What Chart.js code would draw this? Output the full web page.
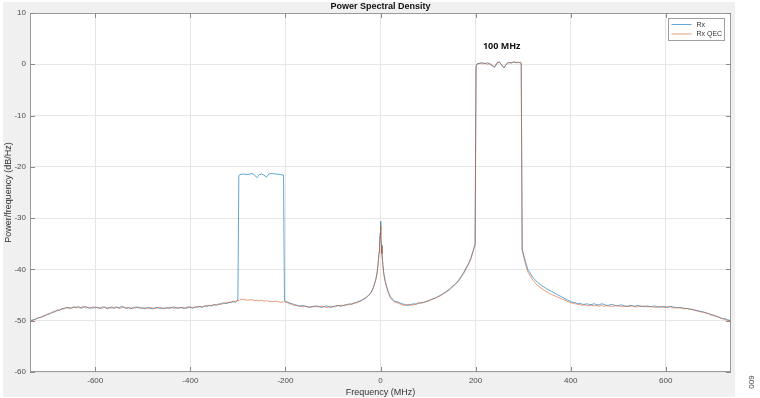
<!DOCTYPE html>
<html>
<head>
<meta charset="utf-8">
<script src="https://cdn.jsdelivr.net/npm/chart.js@4.4.1/dist/chart.umd.min.js"></script>
<style>
  html, body { margin: 0; padding: 0; background: #ffffff; }
  canvas { display: block; }
</style>
</head>
<body>
<canvas id="psd" width="760" height="398"></canvas>
<script>
// ---------- data ----------
const freqMHz = [
  -737,-730,-725,-720,-715,-710,-705,-700,-695,-690,
  -685,-680,-675,-670,-665,-660,-655,-650,-645,-640,
  -635,-630,-625,-620,-615,-610,-605,-600,-595,-590,
  -585,-580,-575,-570,-565,-560,-555,-550,-545,-540,
  -535,-530,-525,-520,-515,-510,-505,-500,-495,-490,
  -485,-480,-475,-470,-465,-460,-455,-450,-445,-440,
  -435,-430,-425,-420,-415,-410,-405,-400,-395,-390,
  -385,-380,-375,-370,-365,-360,-355,-350,-345,-340,
  -335,-330,-325,-320,-315,-310,-305,
  -300,-298,-296,-290,-280,-270,-265,-260,-255,-250,
  -245,-240,-235,-230,-220,-210,-204,-202,-200,
  -195,-190,-185,-180,-175,-170,-165,-160,-155,-150,
  -145,-140,-135,-130,-125,-120,-115,-110,-105,-100,
  -95,-90,-85,-80,-75,-70,-65,-60,-55,-50,
  -45,-40,-35,-30,-25,-20,
  -15,-10,-7,-5,-3,-2,-1,0,1,2,3,5,7,10,15,
  20,25,30,35,40,45,50,55,60,65,
  70,75,80,85,90,95,100,105,110,115,
  120,125,130,135,140,145,150,155,160,165,
  170,175,180,185,190,195,199,201,203,
  210,215,220,225,230,235,240,245,250,255,
  260,265,270,275,280,285,290,294,
  296,298,305,310,320,330,340,350,360,370,
  380,390,400,405,410,415,420,425,430,435,
  440,445,450,455,460,465,470,475,480,485,
  490,495,500,505,510,515,520,525,530,535,
  540,545,550,555,560,565,570,575,580,585,
  590,595,600,605,610,615,620,625,630,635,
  640,645,650,655,660,665,670,675,680,685,
  690,695,700,705,710,715,720,725,730,737
];

const rxDb = [
  -50.0,-49.8,-49.7,-49.4,-49.4,-49.1,-49.0,-48.7,-48.7,-48.3,
  -48.3,-47.9,-48.0,-47.6,-47.7,-47.4,-47.6,-47.5,-47.3,-47.5,
  -47.2,-47.6,-47.4,-47.2,-47.5,-47.6,-47.3,-47.5,-47.4,-47.6,
  -47.3,-47.4,-47.7,-47.5,-47.3,-47.6,-47.4,-47.5,-47.2,-47.4,
  -47.6,-47.5,-47.7,-47.4,-47.5,-47.3,-47.6,-47.5,-47.7,-47.4,
  -47.6,-47.7,-47.5,-47.4,-47.6,-47.5,-47.7,-47.4,-47.6,-47.5,
  -47.3,-47.5,-47.6,-47.4,-47.6,-47.5,-47.3,-47.4,-47.6,-47.3,
  -47.4,-47.2,-47.4,-47.1,-47.2,-47.0,-47.1,-46.9,-47.0,-46.8,
  -46.7,-46.5,-46.7,-46.5,-46.4,-46.3,-46.4,
  -46.0,-21.8,-21.5,-21.4,-21.5,-21.3,-21.6,-22.1,-21.5,-21.4,
  -21.6,-22.0,-21.4,-21.3,-21.4,-21.5,-21.6,-46.0,-46.2,
  -46.4,-46.6,-46.7,-46.9,-47.0,-47.2,-47.0,-47.1,-47.3,-47.4,
  -47.2,-47.3,-47.1,-47.2,-47.4,-47.3,-47.1,-47.2,-47.4,-47.3,
  -47.1,-47.0,-47.2,-47.1,-46.9,-46.9,-46.7,-46.8,-46.5,-46.4,
  -46.2,-46.0,-45.8,-45.5,-45.1,-44.5,
  -43.5,-42.0,-40.5,-38.8,-36.5,-35.0,-33.0,-30.6,-33.2,-35.2,-36.8,-39.0,-40.8,-42.3,-44.0,
  -45.2,-45.8,-46.2,-46.3,-46.5,-46.7,-46.8,-47.0,-47.0,-46.8,
  -46.7,-46.8,-46.6,-46.5,-46.4,-46.3,-46.2,-45.9,-45.7,-45.6,
  -45.3,-45.1,-44.8,-44.5,-44.2,-43.8,-43.4,-43.0,-42.6,-42.0,
  -41.3,-40.6,-39.7,-38.9,-37.8,-36.3,-35.0,-0.5,0.1,
  0.2,0.3,0.1,0.3,0.0,-0.3,-0.6,0.2,0.5,-0.2,
  -0.7,0.1,0.4,0.3,0.4,0.3,0.4,0.3,
  0.2,-36.0,-38.5,-40.0,-41.5,-42.5,-43.2,-43.8,-44.3,-44.8,
  -45.3,-45.8,-46.3,-46.4,-46.5,-46.7,-46.6,-46.8,-46.8,-46.7,
  -46.9,-46.8,-46.7,-46.9,-46.9,-46.7,-46.8,-47.0,-47.0,-46.8,
  -46.9,-47.1,-47.1,-46.9,-47.0,-47.2,-47.2,-47.0,-47.1,-47.2,
  -47.0,-47.1,-47.2,-47.3,-47.1,-47.2,-47.3,-47.1,-47.2,-47.4,
  -47.3,-47.2,-47.3,-47.4,-47.2,-47.3,-47.4,-47.5,-47.4,-47.5,
  -47.6,-47.6,-47.7,-47.8,-47.9,-48.0,-48.1,-48.2,-48.3,-48.5,
  -48.6,-48.8,-48.9,-49.1,-49.3,-49.4,-49.6,-49.6,-49.8,-50.0
];

const rxQecDb = [
  -50.1,-49.9,-49.6,-49.5,-49.3,-49.2,-48.9,-48.8,-48.5,-48.4,
  -48.1,-48.1,-47.8,-47.8,-47.5,-47.5,-47.4,-47.6,-47.4,-47.3,
  -47.5,-47.4,-47.2,-47.5,-47.4,-47.4,-47.6,-47.3,-47.5,-47.5,
  -47.6,-47.3,-47.5,-47.4,-47.6,-47.4,-47.3,-47.6,-47.5,-47.3,
  -47.5,-47.4,-47.5,-47.6,-47.3,-47.5,-47.4,-47.6,-47.5,-47.6,
  -47.4,-47.5,-47.7,-47.5,-47.4,-47.6,-47.5,-47.6,-47.4,-47.4,
  -47.6,-47.5,-47.4,-47.5,-47.4,-47.6,-47.5,-47.3,-47.4,-47.4,
  -47.2,-47.3,-47.3,-47.2,-47.0,-47.1,-47.0,-46.8,-46.9,-46.7,
  -46.8,-46.6,-46.5,-46.4,-46.4,-46.2,-46.2,
  -46.0,-46.1,-45.9,-45.8,-46.0,-45.9,-46.1,-46.0,-46.1,-46.0,
  -46.2,-46.1,-46.2,-46.3,-46.2,-46.4,-46.3,-46.2,-46.4,
  -46.5,-46.7,-46.9,-47.0,-47.1,-47.1,-47.3,-47.2,-47.2,-47.3,
  -47.4,-47.1,-47.3,-47.3,-47.2,-47.2,-47.4,-47.4,-47.2,-47.2,
  -47.3,-47.1,-47.0,-47.0,-47.1,-46.8,-46.9,-46.7,-46.6,-46.5,
  -46.3,-46.1,-45.7,-45.4,-45.0,-44.6,
  -43.6,-42.1,-40.7,-39.0,-36.8,-35.4,-33.6,-31.4,-33.8,-35.5,-37.0,-39.2,-41.0,-42.5,-44.2,
  -45.4,-46.0,-46.4,-46.5,-46.7,-46.9,-47.0,-46.9,-46.8,-47.0,
  -46.9,-46.7,-46.5,-46.6,-46.5,-46.3,-46.1,-46.0,-45.8,-45.6,
  -45.4,-45.2,-44.9,-44.6,-44.3,-44.0,-43.6,-43.1,-42.7,-42.2,
  -41.5,-40.8,-39.9,-39.0,-38.0,-36.5,-35.2,-0.6,0.0,
  0.3,0.1,0.2,0.0,0.2,-0.2,-0.5,0.3,0.4,-0.1,
  -0.6,0.0,0.3,0.2,0.5,0.4,0.3,0.4,
  0.3,-36.3,-39.0,-40.5,-42.0,-43.1,-43.8,-44.4,-44.9,-45.3,
  -45.7,-46.1,-46.5,-46.6,-46.7,-46.8,-46.9,-47.0,-46.9,-47.1,
  -47.0,-47.0,-47.1,-47.0,-47.2,-47.0,-47.2,-47.1,-47.1,-47.2,
  -47.2,-47.0,-47.1,-47.2,-47.3,-47.1,-47.2,-47.2,-47.1,-47.3,
  -47.3,-47.2,-47.2,-47.1,-47.3,-47.3,-47.2,-47.4,-47.4,-47.2,
  -47.3,-47.4,-47.4,-47.3,-47.3,-47.5,-47.5,-47.4,-47.5,-47.6,
  -47.7,-47.6,-47.8,-47.8,-47.9,-48.1,-48.2,-48.3,-48.4,-48.5,
  -48.6,-48.9,-49.0,-49.1,-49.2,-49.5,-49.6,-49.8,-49.9,-50.1
];

const xTickValues = [-600, -400, -200, 0, 200, 400, 600];
const yTickValues = [-60, -50, -40, -30, -20, -10, 0, 10];
const seriesNames = ['Rx', 'Rx QEC'];
const chartTitle = 'Power Spectral Density';
const bandLabel = '100 MHz';
const figureNumber = '009';

// ---------- chart ----------
Chart.defaults.font.family = "'Liberation Sans', Arial, Helvetica, sans-serif";

const BLUE = 'rgba(0,114,189,0.62)';
const ORANGE = 'rgba(217,83,25,0.56)';

const framePlugin = {
  id: 'matlabFrame',
  beforeDraw(chart) {
    const { ctx, chartArea: a } = chart;
    ctx.save();
    ctx.fillStyle = '#f0f0f0';
    ctx.fillRect(3, 2, 732, 395);
    ctx.fillStyle = '#ffffff';
    ctx.fillRect(a.left, a.top, a.right - a.left, a.bottom - a.top);
    ctx.restore();
  },
  afterDraw(chart) {
    const { ctx, chartArea: a, scales } = chart;
    const xs = scales.x, ys = scales.y;
    ctx.save();
    // title
    ctx.font = "bold 9px 'Liberation Sans', Arial, sans-serif";
    ctx.fillStyle = '#111111';
    ctx.textAlign = 'center';
    ctx.textBaseline = 'middle';
    ctx.fillText(chartTitle, (a.left + a.right) / 2, a.top - 6.5);
    // axes box
    ctx.strokeStyle = '#9a9a9a';
    ctx.lineWidth = 1;
    ctx.strokeRect(Math.round(a.left) + 0.5, Math.round(a.top) + 0.5,
                   Math.round(a.right - a.left) - 1, Math.round(a.bottom - a.top) - 1);
    // inward tick marks
    ctx.strokeStyle = '#8a8a8a';
    ctx.beginPath();
    xs.ticks.forEach(t => {
      const px = Math.round(xs.getPixelForValue(t.value)) + 0.5;
      ctx.moveTo(px, a.bottom); ctx.lineTo(px, a.bottom - 5);
      ctx.moveTo(px, a.top); ctx.lineTo(px, a.top + 5);
    });
    ys.ticks.forEach(t => {
      const py = Math.round(ys.getPixelForValue(t.value)) + 0.5;
      ctx.moveTo(a.left, py); ctx.lineTo(a.left + 5, py);
      ctx.moveTo(a.right, py); ctx.lineTo(a.right - 5, py);
    });
    ctx.stroke();

    // legend box
    const lx = Math.round(a.right - 63) + 0.5, ly = Math.round(a.top + 5) + 0.5;
    const lw = 56, lh = 22;
    ctx.fillStyle = '#ffffff';
    ctx.fillRect(lx, ly, lw, lh);
    ctx.strokeStyle = '#a0a0a0';
    ctx.strokeRect(lx, ly, lw, lh);
    const colors = [BLUE, ORANGE];
    ctx.font = "7px 'Liberation Sans', Arial, sans-serif";
    ctx.textBaseline = 'middle';
    ctx.textAlign = 'left';
    seriesNames.forEach((name, i) => {
      const yy = ly + 6 + i * 9.5;
      ctx.strokeStyle = colors[i];
      ctx.beginPath();
      ctx.moveTo(lx + 3, yy); ctx.lineTo(lx + 23, yy);
      ctx.stroke();
      ctx.fillStyle = '#333333';
      ctx.fillText(name, lx + 28, yy + 0.5);
    });

    // band annotation
    ctx.font = "bold 9px 'Open Sans', 'Liberation Sans', Arial, sans-serif";
    ctx.fillStyle = '#111111';
    ctx.textAlign = 'center';
    ctx.textBaseline = 'middle';
    ctx.fillText(bandLabel, xs.getPixelForValue(255), ys.getPixelForValue(3.4));

    // figure number, rotated
    ctx.translate(752, 382);
    ctx.rotate(-Math.PI / 2);
    ctx.font = "8px 'Liberation Sans', Arial, sans-serif";
    ctx.fillStyle = '#444444';
    ctx.fillText(figureNumber, 0, 0);
    ctx.restore();
  }
};

const toPoints = (vals) => freqMHz.map((f, i) => ({ x: f, y: vals[i] }));

new Chart(document.getElementById('psd').getContext('2d'), {
  type: 'line',
  data: {
    datasets: [
      { label: seriesNames[0], data: toPoints(rxDb), borderColor: BLUE, borderWidth: 1,
        pointRadius: 0, tension: 0, fill: false, order: 1 },
      { label: seriesNames[1], data: toPoints(rxQecDb), borderColor: ORANGE, borderWidth: 1,
        pointRadius: 0, tension: 0, fill: false, order: 0 }
    ]
  },
  options: {
    responsive: false,
    animation: false,
    devicePixelRatio: 1,
    layout: { padding: { left: 0, right: 29, top: 13, bottom: 0 } },
    plugins: {
      legend: { display: false },
      tooltip: { enabled: false },
      title: { display: false }
    },
    scales: {
      x: {
        type: 'linear', min: -737.28, max: 737.28,
        afterBuildTicks: s => { s.ticks = xTickValues.map(v => ({ value: v })); },
        afterFit: s => { s.height = 26; },
        grid: { color: '#e6e6e6', drawTicks: false },
        border: { display: false },
        ticks: { padding: 4, color: '#4d4d4d', font: { size: 8 }, maxRotation: 0 },
        title: { display: true, text: 'Frequency (MHz)', font: { size: 9 }, color: '#333333',
                 padding: { top: 0, bottom: 0 } }
      },
      y: {
        type: 'linear', min: -60, max: 10,
        afterBuildTicks: s => { s.ticks = yTickValues.map(v => ({ value: v })); },
        afterFit: s => { s.width = 30; },
        grid: { color: '#e6e6e6', drawTicks: false },
        border: { display: false },
        ticks: { padding: 4, color: '#4d4d4d', font: { size: 8 } },
        title: { display: true, text: 'Power/frequency (dB/Hz)', font: { size: 9 }, color: '#333333',
                 padding: { top: 3, bottom: 0 } }
      }
    }
  },
  plugins: [framePlugin]
});
</script>
</body>
</html>
